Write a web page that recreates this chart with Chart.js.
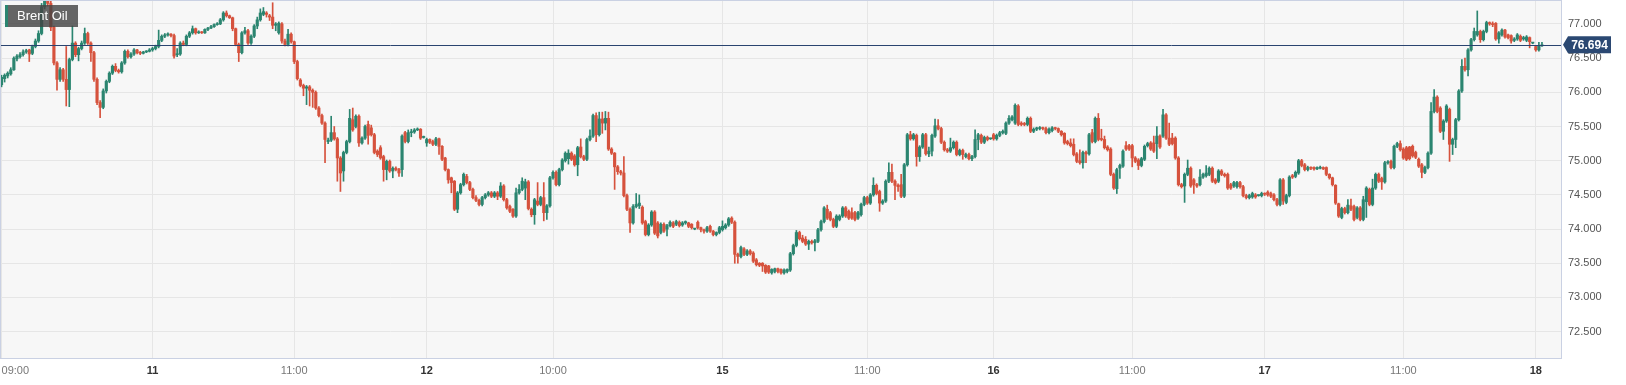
<!DOCTYPE html>
<html><head><meta charset="utf-8">
<script src="https://cdn.jsdelivr.net/npm/chart.js@4.4.1/dist/chart.umd.min.js"></script>
<style>
html,body{margin:0;padding:0;background:#fff;}
#wrap{position:relative;width:1626px;height:385px;}
#legend{position:absolute;left:5px;top:5px;width:61px;height:22px;background:rgba(68,68,68,0.82);border-left:3px solid #2b8570;color:#fff;font:13px "Liberation Sans",Arial,sans-serif;line-height:22px;padding-left:9px;white-space:nowrap;}
</style></head>
<body><div id="wrap"><canvas id="c" width="1626" height="385"></canvas><div id="legend">Brent Oil</div></div>
<script>
// ---- data (15-minute candles, Brent Oil) ----
const open = [
76.11,76.20,76.24,76.27,76.33,76.49,76.52,76.55,76.59,76.62,76.57,76.67,76.75,76.86,77.25,77.36,77.30,76.95,76.43,76.19,
76.33,76.19,76.04,76.48,76.72,76.55,76.64,76.72,76.86,76.72,76.58,76.19,75.85,75.78,76.02,76.16,76.28,76.38,76.32,76.30,
76.43,76.60,76.52,76.56,76.62,76.58,76.57,76.59,76.60,76.62,76.64,76.67,76.76,76.82,76.84,76.85,76.83,76.55,76.56,76.72,
76.70,76.82,76.87,76.93,76.87,76.88,76.87,76.92,76.94,76.96,76.99,77.00,77.06,77.16,77.12,77.09,76.93,76.70,76.58,76.87,
76.90,76.72,76.82,76.97,77.06,77.14,77.16,77.12,77.10,76.98,76.87,77.00,76.75,76.70,76.85,76.74,76.45,76.18,76.10,76.06,
76.08,76.03,76.00,75.77,75.66,75.55,75.28,75.30,75.41,75.32,75.04,74.85,75.12,75.28,75.60,75.50,75.65,75.26,75.33,75.53,
75.48,75.38,75.14,75.19,75.06,74.87,74.99,74.85,74.89,74.87,74.87,75.41,75.28,75.41,75.42,75.45,75.46,75.34,75.26,75.31,
75.28,75.24,75.32,75.21,75.04,74.87,74.75,74.70,74.29,74.53,74.65,74.77,74.68,74.58,74.46,74.42,74.36,74.46,74.50,74.53,
74.48,74.53,74.48,74.63,74.43,74.33,74.29,74.19,74.53,74.58,74.60,74.69,74.29,74.21,74.41,74.36,74.46,74.24,74.34,74.75,
74.83,74.65,74.87,75.00,75.03,75.11,75.07,74.94,75.20,75.06,75.02,75.31,75.36,75.66,75.38,75.61,75.55,75.62,75.17,75.11,
74.91,74.84,74.82,74.49,74.29,74.09,74.33,74.34,74.32,74.11,73.92,74.06,74.25,74.09,73.95,74.07,74.00,74.05,74.09,74.07,
74.10,74.06,74.09,74.09,74.07,74.00,74.10,74.02,73.99,73.97,74.04,73.97,73.92,73.95,73.99,74.02,74.06,74.16,74.10,73.63,
73.60,73.71,73.63,73.68,73.65,73.55,73.50,73.50,73.47,73.46,73.36,73.38,73.42,73.41,73.36,73.38,73.40,73.64,73.76,73.95,
73.87,73.85,73.78,73.82,73.80,73.82,73.99,74.11,74.29,74.24,74.14,74.04,74.14,74.19,74.31,74.26,74.24,74.24,74.16,74.21,
74.36,74.46,74.38,74.50,74.64,74.55,74.38,74.41,74.70,74.83,74.70,74.64,74.65,74.48,74.94,75.38,75.32,75.37,75.06,75.20,
75.38,75.10,75.14,75.36,75.51,75.47,75.27,75.16,75.14,75.19,75.27,75.09,75.15,75.06,75.09,75.03,75.06,75.31,75.37,75.27,
75.34,75.32,75.38,75.32,75.37,75.41,75.40,75.55,75.60,75.55,75.80,75.55,75.54,75.53,75.62,75.43,75.46,75.47,75.48,75.47,
75.41,75.44,75.48,75.47,75.43,75.40,75.28,75.26,75.24,75.10,75.00,74.97,75.12,75.10,75.41,75.28,75.62,75.32,75.31,75.20,
75.17,74.80,74.59,74.89,74.92,75.22,75.22,75.22,75.04,75.01,74.93,75.02,75.22,75.26,75.26,75.25,75.36,75.36,75.67,75.33,
75.33,75.33,75.04,74.65,74.63,74.80,74.89,74.72,74.65,74.65,74.76,74.78,74.80,74.89,74.72,74.70,74.85,74.80,74.80,74.65,
74.63,74.62,74.68,74.62,74.49,74.46,74.47,74.50,74.49,74.49,74.52,74.54,74.52,74.50,74.43,74.36,74.72,74.39,74.49,74.78,
74.77,74.82,75.00,74.94,74.87,74.90,74.90,74.88,74.89,74.90,74.90,74.80,74.75,74.64,74.37,74.17,74.30,74.24,74.34,74.33,
74.17,74.31,74.14,74.40,74.58,74.36,74.60,74.80,74.74,74.69,74.97,74.99,74.90,75.21,75.25,75.17,75.19,75.20,75.21,75.12,
75.02,74.94,74.83,74.90,75.11,75.72,75.93,75.77,75.43,75.58,75.75,75.24,75.31,75.60,76.02,76.38,76.33,76.62,76.77,76.84,
76.89,76.77,76.89,77.02,77.00,77.01,76.78,76.84,76.91,76.84,76.83,76.76,76.78,76.82,76.78,76.76,76.80,76.72,76.67,76.62,76.68
];
const high = [
76.25,76.27,76.30,76.36,76.52,76.55,76.58,76.62,76.63,76.63,76.69,76.78,76.90,77.30,77.45,77.45,77.35,76.97,76.45,76.36,
76.35,76.67,76.50,76.97,76.74,76.66,76.75,76.94,76.88,76.74,76.60,76.21,75.88,76.05,76.18,76.30,76.40,76.42,76.34,76.45,
76.62,76.62,76.58,76.64,76.63,76.60,76.60,76.61,76.64,76.66,76.69,76.91,76.84,76.86,76.87,76.86,76.85,76.64,76.74,76.75,
76.84,76.89,76.97,76.94,76.90,76.89,76.93,76.95,76.98,77.00,77.02,77.08,77.18,77.19,77.13,77.10,76.94,76.72,76.89,76.95,
76.92,76.84,76.99,77.10,77.22,77.24,77.18,77.14,77.31,77.02,77.03,77.02,76.78,76.92,76.87,76.75,76.47,76.20,76.12,76.10,
76.10,76.05,76.02,75.79,75.68,75.57,75.33,75.65,75.50,75.34,75.06,75.14,75.30,75.75,75.77,75.67,75.67,75.35,75.52,75.58,
75.52,75.40,75.16,75.22,75.08,75.01,75.01,74.91,74.91,74.89,75.38,75.43,75.45,75.46,75.47,75.48,75.47,75.36,75.33,75.32,
75.30,75.34,75.33,75.22,75.05,74.88,74.76,74.71,74.55,74.67,74.82,74.80,74.70,74.60,74.49,74.44,74.48,74.52,74.55,74.55,
74.55,74.55,74.68,74.65,74.45,74.35,74.30,74.60,74.65,74.75,74.73,74.71,74.31,74.45,74.68,74.48,74.68,74.36,74.77,74.85,
74.85,74.89,75.03,75.13,75.16,75.13,75.09,75.21,75.32,75.08,75.33,75.45,75.68,75.70,75.71,75.71,75.72,75.71,75.19,75.12,
74.93,74.86,75.06,74.51,74.31,74.36,74.52,74.50,74.34,74.13,74.08,74.27,74.27,74.11,74.09,74.09,74.07,74.12,74.11,74.13,
74.12,74.11,74.12,74.10,74.08,74.01,74.12,74.03,74.00,74.04,74.06,73.98,73.96,74.04,74.12,74.08,74.17,74.18,74.12,73.65,
73.75,73.73,73.70,73.70,73.67,73.57,73.51,73.51,73.48,73.47,73.42,73.43,73.43,73.42,73.42,73.42,73.66,73.78,73.98,73.97,
73.91,73.89,73.84,73.84,73.85,74.01,74.13,74.33,74.35,74.26,74.16,74.21,74.21,74.33,74.33,74.28,74.31,74.26,74.26,74.38,
74.48,74.48,74.52,74.75,74.66,74.57,74.43,74.72,74.97,74.95,74.72,74.66,74.80,74.96,75.40,75.43,75.40,75.39,75.22,75.40,
75.40,75.20,75.39,75.61,75.60,75.49,75.29,75.18,75.33,75.29,75.29,75.17,75.17,75.11,75.11,75.08,75.45,75.40,75.39,75.36,
75.36,75.33,75.40,75.39,75.43,75.45,75.57,75.66,75.66,75.83,75.82,75.57,75.56,75.64,75.64,75.48,75.49,75.50,75.49,75.49,
75.48,75.50,75.49,75.48,75.44,75.41,75.30,75.32,75.32,75.12,75.16,75.14,75.14,75.40,75.46,75.64,75.69,75.46,75.36,75.22,
75.19,74.82,74.89,74.95,75.16,75.28,75.24,75.24,75.06,75.03,75.05,75.23,75.27,75.28,75.36,75.50,75.38,75.75,75.69,75.55,
75.40,75.35,75.06,74.67,74.82,75.01,74.91,74.74,74.67,74.87,74.82,74.93,74.91,74.91,74.74,74.87,74.87,74.82,74.82,74.67,
74.70,74.70,74.70,74.64,74.51,74.51,74.54,74.52,74.50,74.54,74.53,74.56,74.54,74.52,74.45,74.74,74.74,74.51,74.78,74.80,
74.85,75.02,75.02,74.96,74.92,74.91,74.91,74.91,74.92,74.91,74.91,74.81,74.76,74.65,74.38,74.32,74.32,74.43,74.44,74.35,
74.33,74.33,74.48,74.62,74.60,74.73,74.82,74.82,74.76,74.99,75.00,75.01,75.23,75.27,75.29,75.19,75.21,75.21,75.23,75.14,
75.04,74.96,74.92,75.13,75.85,76.04,75.95,75.79,75.60,75.82,75.77,75.33,75.62,76.04,76.48,76.50,76.64,76.79,76.94,77.19,
76.91,76.91,77.04,77.03,77.03,77.02,76.89,76.93,76.92,76.85,76.84,76.80,76.86,76.84,76.82,76.83,76.81,76.73,76.68,76.73,76.73
];
const low = [
76.08,76.15,76.21,76.25,76.32,76.46,76.50,76.53,76.57,76.45,76.55,76.65,76.73,76.84,77.22,77.26,76.90,76.40,76.03,76.16,
76.16,75.80,75.79,76.46,76.52,76.46,76.62,76.70,76.70,76.45,76.16,75.82,75.63,75.76,75.99,76.14,76.26,76.30,76.28,76.28,
76.41,76.50,76.50,76.54,76.56,76.55,76.56,76.58,76.59,76.60,76.62,76.65,76.74,76.80,76.82,76.81,76.50,76.52,76.54,76.68,
76.68,76.80,76.85,76.85,76.86,76.86,76.86,76.90,76.93,76.95,76.98,76.99,77.04,77.10,77.08,76.90,76.68,76.45,76.56,76.85,
76.70,76.70,76.80,76.93,77.04,77.12,77.10,77.05,76.93,76.90,76.85,76.72,76.68,76.68,76.72,76.42,76.18,76.08,75.95,75.82,
75.80,75.78,75.75,75.64,75.53,74.97,75.25,75.28,75.30,74.70,74.55,74.70,75.10,75.26,75.43,75.48,75.21,75.24,75.31,75.24,
75.36,75.10,75.06,75.02,74.70,74.72,74.83,74.75,74.85,74.77,74.77,75.26,75.26,75.35,75.40,75.44,75.31,75.33,75.21,75.25,
75.22,75.22,75.09,75.00,74.85,74.67,74.53,74.27,74.24,74.51,74.63,74.66,74.56,74.44,74.40,74.34,74.34,74.44,74.48,74.46,
74.46,74.43,74.46,74.41,74.29,74.24,74.17,74.17,74.51,74.56,74.43,74.28,74.18,74.07,74.34,74.34,74.12,74.14,74.32,74.73,
74.63,74.63,74.85,74.98,74.95,75.00,74.92,74.78,75.04,75.00,75.00,75.29,75.34,75.28,75.36,75.40,75.45,75.15,75.09,74.58,
74.80,74.79,74.47,74.27,73.95,74.07,74.31,74.30,74.07,73.90,73.90,74.04,73.92,73.87,73.93,73.95,73.90,74.03,74.02,74.05,
74.03,74.04,74.07,74.02,74.00,73.99,74.00,73.96,73.94,73.95,73.95,73.90,73.90,73.93,73.97,74.00,74.04,74.08,73.50,73.50,
73.58,73.61,73.61,73.62,73.51,73.46,73.45,73.38,73.35,73.35,73.34,73.36,73.36,73.34,73.34,73.36,73.38,73.62,73.74,73.84,
73.80,73.76,73.70,73.78,73.68,73.80,73.97,74.09,74.14,74.12,74.02,74.02,74.12,74.17,74.17,74.14,74.14,74.12,74.14,74.19,
74.34,74.36,74.36,74.48,74.50,74.26,74.36,74.39,74.68,74.68,74.43,74.55,74.46,74.46,74.92,75.30,75.30,74.92,74.99,75.18,
75.08,75.06,75.07,75.34,75.45,75.25,75.14,75.12,75.12,75.17,75.07,75.07,75.02,75.04,75.01,75.00,75.04,75.16,75.25,75.25,
75.29,75.31,75.30,75.30,75.35,75.39,75.38,75.53,75.58,75.53,75.51,75.51,75.51,75.51,75.41,75.41,75.44,75.45,75.45,75.39,
75.39,75.42,75.45,75.41,75.36,75.24,75.23,75.20,75.07,74.97,74.95,74.89,74.97,75.08,75.26,75.26,75.29,75.29,75.17,75.14,
74.78,74.58,74.52,74.74,74.90,75.15,75.15,74.91,74.97,74.87,74.91,75.00,75.20,75.15,75.12,75.03,75.18,75.34,75.31,75.22,
75.23,75.02,74.63,74.60,74.39,74.78,74.61,74.52,74.61,74.63,74.74,74.76,74.78,74.68,74.66,74.68,74.78,74.76,74.58,74.58,
74.61,74.60,74.60,74.47,74.44,74.44,74.45,74.45,74.48,74.47,74.49,74.48,74.46,74.41,74.34,74.34,74.36,74.37,74.47,74.74,
74.75,74.80,74.91,74.85,74.85,74.87,74.86,74.87,74.88,74.87,74.78,74.73,74.63,74.36,74.17,74.15,74.22,74.22,74.27,74.12,
74.15,74.12,74.12,74.17,74.34,74.34,74.58,74.68,74.58,74.67,74.95,74.88,74.88,75.19,75.14,75.02,75.00,75.01,75.05,75.03,
74.90,74.75,74.81,74.88,75.09,75.70,75.70,75.41,75.31,75.56,74.99,75.09,75.19,75.58,76.00,76.31,76.24,76.60,76.75,76.82,
76.73,76.75,76.87,76.98,76.96,76.76,76.72,76.82,76.79,76.78,76.72,76.74,76.76,76.74,76.76,76.74,76.65,76.71,76.60,76.60,76.67
];
const close = [
76.22,76.25,76.28,76.33,76.50,76.53,76.55,76.59,76.61,76.56,76.67,76.75,76.86,77.25,77.36,77.30,76.95,76.43,76.19,76.33,
76.19,76.04,76.48,76.72,76.55,76.64,76.72,76.86,76.72,76.58,76.19,75.85,75.78,76.02,76.16,76.28,76.38,76.32,76.30,76.43,
76.60,76.52,76.56,76.62,76.58,76.57,76.59,76.60,76.62,76.64,76.67,76.76,76.82,76.84,76.85,76.83,76.53,76.56,76.72,76.70,
76.82,76.87,76.93,76.87,76.88,76.87,76.92,76.94,76.96,76.99,77.00,77.06,77.16,77.12,77.09,76.93,76.70,76.58,76.87,76.90,
76.72,76.82,76.97,77.06,77.16,77.18,77.14,77.10,76.98,77.00,77.01,76.75,76.70,76.85,76.74,76.45,76.20,76.10,76.06,76.08,
76.03,76.00,75.77,75.66,75.55,75.31,75.30,75.41,75.32,75.04,74.82,75.12,75.28,75.62,75.45,75.65,75.26,75.33,75.50,75.37,
75.38,75.12,75.09,75.04,74.87,74.99,74.85,74.89,74.87,74.82,75.36,75.28,75.41,75.42,75.45,75.46,75.33,75.35,75.31,75.27,
75.24,75.32,75.21,75.02,74.87,74.72,74.68,74.29,74.53,74.65,74.80,74.68,74.58,74.46,74.42,74.36,74.46,74.50,74.53,74.48,
74.53,74.48,74.63,74.43,74.31,74.26,74.19,74.53,74.58,74.70,74.69,74.30,74.21,74.43,74.36,74.46,74.24,74.34,74.75,74.83,
74.65,74.87,75.01,75.11,75.11,75.02,74.94,75.19,75.06,75.02,75.31,75.36,75.66,75.38,75.61,75.55,75.62,75.17,75.11,74.91,
74.84,74.82,74.49,74.29,74.09,74.33,74.36,74.38,74.09,73.92,74.06,74.25,73.94,73.90,74.07,73.97,74.05,74.10,74.04,74.11,
74.05,74.09,74.11,74.04,74.02,74.00,74.02,73.99,73.97,74.02,73.97,73.92,73.95,74.02,74.04,74.06,74.15,74.10,73.63,73.60,
73.73,73.63,73.68,73.64,73.53,73.48,73.47,73.46,73.37,73.37,73.41,73.42,73.38,73.36,73.40,73.41,73.64,73.76,73.95,73.86,
73.82,73.78,73.82,73.80,73.83,73.99,74.11,74.31,74.16,74.14,74.04,74.19,74.19,74.31,74.19,74.16,74.16,74.14,74.24,74.36,
74.46,74.38,74.50,74.64,74.52,74.38,74.41,74.70,74.83,74.70,74.64,74.62,74.48,74.94,75.38,75.32,75.38,75.06,75.20,75.38,
75.10,75.14,75.37,75.51,75.47,75.27,75.16,75.14,75.19,75.27,75.09,75.15,75.09,75.09,75.03,75.06,75.31,75.38,75.27,75.34,
75.31,75.32,75.32,75.37,75.41,75.43,75.55,75.62,75.64,75.81,75.53,75.53,75.53,75.62,75.43,75.46,75.48,75.48,75.47,75.41,
75.46,75.48,75.47,75.43,75.38,75.26,75.25,75.22,75.09,74.99,74.97,75.12,75.10,75.38,75.28,75.62,75.31,75.31,75.19,75.16,
74.80,74.60,74.87,74.93,75.14,75.17,75.17,75.04,74.99,74.93,75.03,75.21,75.25,75.17,75.14,75.36,75.20,75.67,75.33,75.24,
75.25,75.04,74.65,74.62,74.80,74.89,74.63,74.65,74.63,74.76,74.80,74.82,74.89,74.70,74.68,74.85,74.80,74.78,74.60,74.60,
74.68,74.68,74.62,74.49,74.46,74.49,74.52,74.47,74.49,74.52,74.51,74.50,74.48,74.43,74.36,74.72,74.41,74.49,74.76,74.76,
74.83,75.00,74.93,74.87,74.90,74.89,74.88,74.90,74.90,74.88,74.80,74.75,74.65,74.38,74.19,74.30,74.24,74.35,74.29,74.14,
74.31,74.14,74.43,74.60,74.36,74.60,74.80,74.70,74.69,74.97,74.98,74.90,75.21,75.25,75.16,75.04,75.02,75.03,75.07,75.05,
74.92,74.83,74.90,75.11,75.72,75.93,75.72,75.43,75.58,75.80,75.24,75.31,75.60,76.02,76.38,76.33,76.62,76.77,76.89,76.89,
76.77,76.89,77.02,77.00,76.99,76.78,76.87,76.91,76.81,76.80,76.75,76.78,76.84,76.76,76.80,76.81,76.74,76.72,76.62,76.68,76.694
];
// x-axis tick labels and the 15-minute slot they sit on
const tickLabels = ['09:00','11','11:00','12','10:00','15','11:00','16','11:00','17','11:00','18'];
const tickSlots  = [0, 49, 95, 138, 179, 234, 281, 322, 367, 410, 455, 498];
const yTicks = [72.5,73.0,73.5,74.0,74.5,75.0,75.5,76.0,76.5,77.0];
const lastPrice = 76.694;

// ---- styling ----
const UP = '#2b8570', DOWN = '#d6523d';
const FONT = '"Liberation Sans", Arial, sans-serif';
const SLOTS = 507;

const labels = Array.from({length: SLOTS}, (_, i) => {
  const k = tickSlots.indexOf(i);
  return k >= 0 ? tickLabels[k] : '';
});
const wicks = low.map((l, i) => [l, high[i]]);
const bodies = open.map((o, i) => [Math.min(o, close[i]), Math.max(o, close[i])]);
const colors = open.map((o, i) => close[i] >= o ? UP : DOWN);
const isDate = s => s && s.indexOf(':') < 0;

Chart.defaults.font.family = FONT;

const bgPlugin = {
  id: 'bg',
  beforeDraw(chart) {
    const {ctx, chartArea: a} = chart;
    ctx.save();
    ctx.fillStyle = '#f7f7f7';
    ctx.fillRect(a.left, a.top, a.right - a.left, a.bottom - a.top);
    ctx.restore();
  },
  afterDatasetsDraw(chart) {
    const {ctx, chartArea: a, scales: {y}} = chart;
    const py = Math.round(y.getPixelForValue(lastPrice)) + 0.5;
    ctx.save();
    ctx.strokeStyle = '#2a4470';
    ctx.lineWidth = 1;
    ctx.beginPath(); ctx.moveTo(a.left, py); ctx.lineTo(a.right, py); ctx.stroke();
    ctx.restore();
  },
  afterDraw(chart) {
    const {ctx, chartArea: a, scales: {y}} = chart;
    ctx.save();
    ctx.strokeStyle = '#cad1e3';
    ctx.lineWidth = 1;
    ctx.strokeRect(a.left + 0.5, a.top + 0.5, a.right - a.left - 1, a.bottom - a.top - 1);
    const py = y.getPixelForValue(lastPrice);
    ctx.fillStyle = '#2b4872';
    ctx.beginPath();
    ctx.moveTo(a.right + 1, py);
    ctx.lineTo(a.right + 6, py - 8.5);
    ctx.lineTo(a.right + 49, py - 8.5);
    ctx.lineTo(a.right + 49, py + 8.5);
    ctx.lineTo(a.right + 6, py + 8.5);
    ctx.closePath();
    ctx.fill();
    ctx.fillStyle = '#fff';
    ctx.font = 'bold 12px ' + FONT;
    ctx.textAlign = 'center';
    ctx.textBaseline = 'middle';
    ctx.fillText(lastPrice.toFixed(3), a.right + 27.5, py + 0.5);
    ctx.restore();
  }
};

new Chart(document.getElementById('c'), {
  type: 'bar',
  data: {
    labels,
    datasets: [
      { data: wicks, backgroundColor: colors, barThickness: 1, grouped: false, borderWidth: 0, clip: 0, order: 2 },
      { data: bodies, backgroundColor: colors, barThickness: 2.5, grouped: false, borderWidth: 0, minBarLength: 1, clip: 0, order: 1 }
    ]
  },
  options: {
    responsive: false,
    devicePixelRatio: 1,
    animation: false,
    layout: { padding: 0 },
    plugins: { legend: { display: false }, tooltip: { enabled: false } },
    scales: {
      x: {
        type: 'category',
        offset: true,
        grid: {
          offset: false,
          drawTicks: false,
          color: ctx => (ctx.tick && ctx.tick.label) ? '#e6e6e6' : 'rgba(0,0,0,0)'
        },
        border: { display: false },
        ticks: {
          autoSkip: false, maxRotation: 0, minRotation: 0, padding: 5, align: 'inner',
          color: ctx => isDate(ctx.tick && ctx.tick.label) ? '#333' : '#777',
          font: ctx => ({ family: FONT, size: 11, weight: isDate(ctx.tick && ctx.tick.label) ? 'bold' : 'normal' })
        },
        afterFit: s => { s.height = 26; s.paddingLeft = 0; s.paddingRight = 0; }
      },
      y: {
        position: 'right',
        min: 72.1, max: 77.35,
        afterBuildTicks: s => { s.ticks = yTicks.map(v => ({ value: v })); },
        grid: { color: '#e6e6e6', drawTicks: false },
        border: { display: false },
        ticks: { padding: 6, color: '#555', font: { size: 11, family: FONT }, callback: v => Number(v).toFixed(3) },
        afterFit: s => { s.width = 64; s.paddingTop = 0; s.paddingBottom = 0; }
      }
    }
  },
  plugins: [bgPlugin]
});
</script>
</body></html>
